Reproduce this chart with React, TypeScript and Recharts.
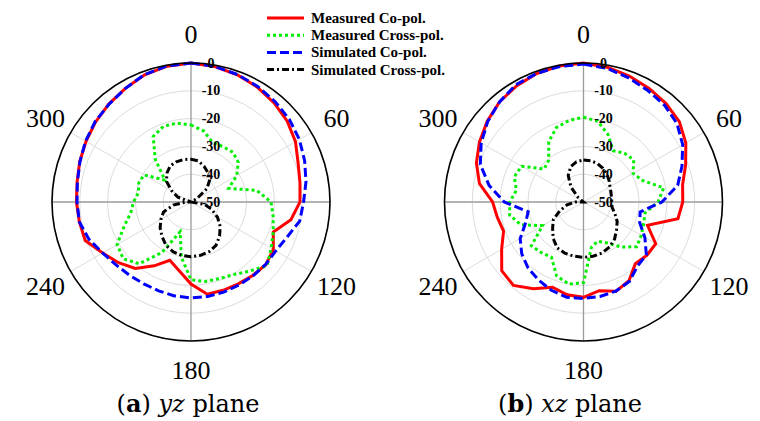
import React from 'react';
import { RadarChart, PolarGrid, PolarAngleAxis, PolarRadiusAxis, Radar } from 'recharts';

// angle in degrees, clockwise from top
const angles = [0, 10, 20, 30, 40, 50, 60, 70, 80, 90, 100, 110, 120, 130, 140, 150, 160, 170,
  180, 190, 200, 210, 220, 230, 240, 250, 260, 270, 280, 290, 300, 310, 320, 330, 340, 350];

// (a) yz plane, dB
const yzMeasuredCo = [0, -0.5, -1.3, -2.3, -3.5, -4.8, -6.6, -9, -10.2, -10.8, -13.5, -18.5, -15.8, -14.9, -15.5, -16, -16.2, -16.3,
  -20.5, -25, -27.7, -23.5, -18.8, -16, -13.3, -9.5, -9.2, -8.8, -8.4, -7.4, -6.4, -5.2, -4, -2.8, -1.3, -0.4];
const yzMeasuredCross = [-22.3, -24, -27.2, -27, -26.6, -27.8, -31, -35.6, -26, -21.2, -20, -18.5, -16.7, -14.3, -17.5, -19.8, -20.6, -21,
  -22, -29.9, -38.6, -29, -21, -18.2, -19.3, -24.4, -28, -29.3, -30.8, -30, -30.5, -37.8, -30, -22.8, -21, -21.2];
const yzSimulatedCo = [0, -0.5, -1.2, -2, -2.9, -3.8, -5, -6.5, -8, -9.5, -10.3, -13.2, -14.8, -15, -15.3, -15.5, -15.5, -15.5,
  -15.5, -15.7, -16, -16, -15.6, -14.8, -13.3, -10.9, -9.2, -9, -8.5, -7.5, -6.2, -5, -4.1, -2.8, -1.2, -0.3];
const yzSimulatedCross = [-34.6, -35, -36.3, -37.8, -39.5, -42.5, -47.5, -50, -50, -50, -45, -42, -39, -36.3, -34, -32, -31, -30.5,
  -30.3, -30.5, -31, -32, -33.8, -35.5, -37.5, -39.5, -43.5, -48, -50, -45, -42, -38.5, -36.5, -35, -34.6, -34.5];

// (b) xz plane, dB
const xzMeasuredCo = [0, -0.8, -1.8, -2.8, -3.8, -5, -7.5, -10.9, -13.8, -14.3, -15.5, -25.5, -20, -20.2, -21, -17.3, -15.8, -17.6,
  -15.7, -16.1, -17.4, -14, -10.8, -11.6, -16, -19.4, -18.5, -17.3, -12, -9, -6.8, -4.8, -3, -1.8, -0.8, -0.3];
const xzMeasuredCross = [-19.5, -20.5, -24.2, -28.7, -27.1, -26.4, -29.4, -27.4, -20.7, -23.2, -27.5, -27, -26, -25, -28.8, -33, -35, -33.5,
  -21, -20, -21.7, -27, -26.3, -25.5, -33, -26, -23, -23.5, -25.5, -23.5, -24.3, -31.5, -30.5, -25, -21.5, -20.2];
const xzSimulatedCo = [-0.4, -1.2, -2.5, -3.7, -4.6, -6.1, -8.8, -12.3, -15.6, -21.8, -29.3, -28.5, -24.5, -20.5, -19.8, -17, -15.9, -15.5,
  -15.3, -15.2, -16.2, -17.6, -19, -21, -23.7, -27.8, -29.8, -21.5, -15.5, -10.5, -7.5, -5, -3, -1.3, -0.8, -0.5];
const xzSimulatedCross = [-34.9, -34.9, -35.3, -36, -36.9, -38, -39, -39.5, -39.8, -39.8, -39.6, -38, -36, -34.5, -32.6, -31.3, -30.5, -30.2,
  -30.1, -30.2, -30.4, -31, -33, -35.5, -37.5, -41, -44, -47, -50, -50, -50, -47.5, -43, -39, -36.5, -35.3];

const angleTicks = [0, 60, 120, 180, 240, 300];
const radiusTicks = [0, -10, -20, -30, -40, -50];
const lightSpokes = [60, 120, 240, 300];
const mainSpokes = [0, 90, 180, 270];

const SERIES = [
  { key: 'measCo', name: 'Measured Co-pol.', color: '#ff0000', dash: undefined as string | undefined },
  { key: 'measCross', name: 'Measured Cross-pol.', color: '#00ee00', dash: '3 3' },
  { key: 'simCo', name: 'Simulated Co-pol.', color: '#0000ff', dash: '9 4' },
  { key: 'simCross', name: 'Simulated Cross-pol.', color: '#000000', dash: '7 3 2 3' },
];

const SERIF = '"Liberation Serif", "Times New Roman", serif';
const CAPTION_FONT = '"DejaVu Serif", serif';
const R = 139;

// clockwise-from-top degrees -> recharts polar degrees
const toPolar = (d: number) => 90 - d;

const buildRows = (mc: number[], mx: number[], sc: number[], sx: number[]) =>
  angles.map((angle, i) => ({ angle, measCo: mc[i], measCross: mx[i], simCo: sc[i], simCross: sx[i] }));

const yzData = buildRows(yzMeasuredCo, yzMeasuredCross, yzSimulatedCo, yzSimulatedCross);
const xzData = buildRows(xzMeasuredCo, xzMeasuredCross, xzSimulatedCo, xzSimulatedCross);

const AngleTick = (props: any) => {
  const { x, y, payload } = props;
  return (
    <text x={x} y={y} textAnchor="middle" dominantBaseline="central" fontSize={26} fontFamily={SERIF} fill="#000">
      {payload.value}
    </text>
  );
};

const RadiusTick = (props: any) => {
  const { x, y, payload } = props;
  return (
    <text x={x + 20} y={y} textAnchor="middle" dominantBaseline="central" fontSize={14} fontWeight="bold" fontFamily={SERIF} fill="#000">
      {payload.value}
    </text>
  );
};

const PolarPlot = ({ data, left, cx }: { data: any[]; left: number; cx: number }) => (
  <div style={{ position: 'absolute', left, top: 0 }}>
    <RadarChart width={380} height={421} data={data} cx={cx} cy={202} outerRadius={R}
      startAngle={90} endAngle={-270} margin={{ top: 0, right: 0, bottom: 0, left: 0 }}>
      <PolarGrid gridType="circle" polarAngles={lightSpokes.map(toPolar)} stroke="#dcdcdc" strokeWidth={1} />
      <PolarGrid gridType="circle" polarAngles={mainSpokes.map(toPolar)} polarRadius={[]} stroke="#9a9a9a" strokeWidth={1.3} />
      <PolarAngleAxis dataKey="angle" type="number" domain={[0, 360]} ticks={angleTicks}
        axisLine={{ stroke: '#000', strokeWidth: 1.6 }} axisLineType="circle"
        tickLine={false} tickSize={29} tick={<AngleTick />} />
      <PolarRadiusAxis angle={90} type="number" domain={[-50, 0]} ticks={radiusTicks}
        axisLine={false} tick={<RadiusTick />} />
      {SERIES.map((s) => (
        <Radar key={s.key} dataKey={s.key} name={s.name} stroke={s.color} strokeWidth={3}
          strokeDasharray={s.dash} fill="none" fillOpacity={0} dot={false} isAnimationActive={false} />
      ))}
    </RadarChart>
  </div>
);

export default function App() {
  return (
    <div style={{ position: 'absolute', left: 0, top: 0, width: 760, height: 421, background: '#fff', overflow: 'hidden' }}>
      <PolarPlot data={yzData} left={0} cx={191} />
      <PolarPlot data={xzData} left={380} cx={203.5} />
      <svg width={760} height={421} style={{ position: 'absolute', left: 0, top: 0, pointerEvents: 'none' }}>
        {SERIES.map((s, i) => {
          const y = 18 + i * 17.2;
          return (
            <g key={s.key}>
              <line x1={267} x2={304} y1={y} y2={y} stroke={s.color} strokeWidth={3} strokeDasharray={s.dash} />
              <text x={311} y={y} dominantBaseline="central" fontSize={15} fontWeight="bold" fontFamily={SERIF} fill="#000">
                {s.name}
              </text>
            </g>
          );
        })}
        <text x={188} y={412} textAnchor="middle" fontSize={24} fontFamily={CAPTION_FONT} fill="#000">
          (<tspan fontWeight="bold">a</tspan>) <tspan fontStyle="italic">yz</tspan> plane
        </text>
        <text x={570} y={412} textAnchor="middle" fontSize={24} fontFamily={CAPTION_FONT} fill="#000">
          (<tspan fontWeight="bold">b</tspan>) <tspan fontStyle="italic">xz</tspan> plane
        </text>
      </svg>
    </div>
  );
}
